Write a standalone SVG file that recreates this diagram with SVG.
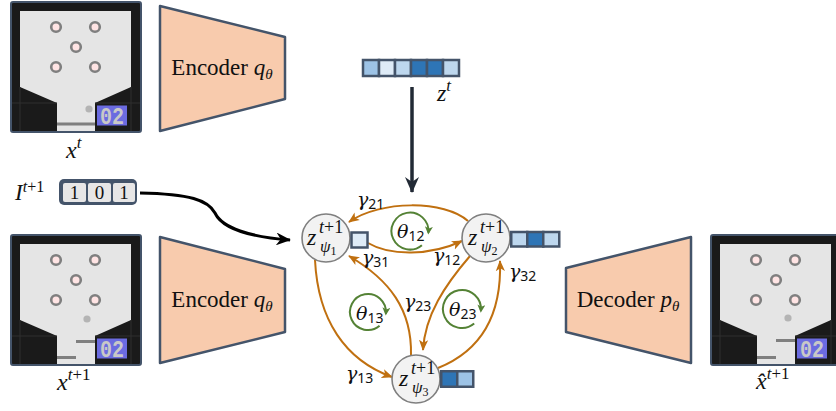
<svg xmlns="http://www.w3.org/2000/svg" xmlns:xlink="http://www.w3.org/1999/xlink" width="836" height="411" viewBox="0 0 836 411">
<style>
.serif{font-family:"Liberation Serif","DejaVu Serif",serif;fill:#111}
.it{font-style:italic}
.enc{fill:#f8cbad;stroke:#44546a;stroke-width:2.5;stroke-linejoin:round}
.cell{stroke:#44546a;stroke-width:2.5}
.node{fill:#f2f2f2;stroke:#7f7f7f;stroke-width:1.6}
.edge{fill:none;stroke:#c07010;stroke-width:2}
.loop{fill:none;stroke:#548235;stroke-width:2}
.lbl{font-family:"DejaVu Serif","Liberation Serif",serif;font-style:italic;font-size:19px;fill:#111}
.sub{font-family:"Noto Sans","DejaVu Sans",sans-serif;font-style:normal;font-size:14px}
.c1{fill:#9dc3e6}.c2{fill:#deebf7}.c3{fill:#bdd7ee}.c4{fill:#2e75b6}
.bump{fill:#ffe4e4;stroke:#7f7f7f;stroke-width:2.6}
.pad{fill:#7f7f7f}
.ball{fill:#b4b4b4}
</style>
<defs>
<marker id="ao" viewBox="0 0 12 12" refX="11" refY="6" markerWidth="11" markerHeight="11" markerUnits="userSpaceOnUse" orient="auto"><path d="M0,1 L12,6 L0,11 L3,6 z" fill="#c07010"/></marker>
<marker id="ab" viewBox="0 0 16 14" refX="15" refY="7" markerWidth="15" markerHeight="13" markerUnits="userSpaceOnUse" orient="auto"><path d="M0,0 L16,7 L0,14 L5,7 z" fill="#000"/></marker>
<marker id="ad" viewBox="0 0 16 14" refX="15" refY="7" markerWidth="16" markerHeight="15" markerUnits="userSpaceOnUse" orient="auto"><path d="M0,0 L16,7 L0,14 L5,7 z" fill="#222a35"/></marker>
<marker id="ag" viewBox="0 0 8 8" refX="6" refY="4" markerWidth="8" markerHeight="8" markerUnits="userSpaceOnUse" orient="auto"><path d="M0,0 L8,4 L0,8 L2,4 z" fill="#548235"/></marker>
<g id="screen">
<rect x="0" y="0" width="130" height="130" rx="2" fill="#1a1a1a" stroke="#44546a" stroke-width="2"/>
<polygon points="9,9 120,9 120,85 84,101 84,129 46,129 46,101 9,85" fill="#e5e5e5"/>
<path d="M1,101 H46 M84,101 H129 M9,85 V129 M120,85 V129" stroke="#2e2e2e" stroke-width="1" fill="none"/>
<circle class="bump" cx="45" cy="25" r="4.8"/>
<circle class="bump" cx="84" cy="25" r="4.8"/>
<circle class="bump" cx="65" cy="45" r="4.8"/>
<circle class="bump" cx="45" cy="65" r="4.8"/>
<circle class="bump" cx="84" cy="65" r="4.8"/>
<rect x="86" y="103.5" width="30" height="20" fill="#6b6be0"/>
<text x="101" y="122" text-anchor="middle" font-family="'Liberation Mono','DejaVu Sans Mono',monospace" font-weight="bold" font-size="23" textLength="24" lengthAdjust="spacingAndGlyphs" fill="#c8c8c8">02</text>
</g>
</defs>

<g id="image-xt">
<use xlink:href="#screen" href="#screen" x="11" y="2"/>
<circle class="ball" cx="89" cy="109" r="3.6"/>
<rect class="pad" x="57" y="122.5" width="38" height="3"/>
<text class="serif" x="66" y="158" font-size="24"><tspan class="it">x</tspan><tspan class="it" font-size="17" dy="-10">t</tspan></text>
</g>

<g id="encoder-top">
<polygon class="enc" points="160,6 285,37 285,99 160,131"/>
<text class="serif" x="222" y="75" font-size="23" text-anchor="middle">Encoder <tspan class="it">q</tspan><tspan class="it" font-size="15" dy="4">θ</tspan></text>
</g>

<g id="latent-zt">
<rect class="cell c1" x="363" y="60" width="16" height="16"/>
<rect class="cell c2" x="379" y="60" width="16" height="16"/>
<rect class="cell c3" x="395" y="60" width="16" height="16"/>
<rect class="cell c4" x="411" y="60" width="16" height="16"/>
<rect class="cell c4" x="427" y="60" width="16" height="16"/>
<rect class="cell c3" x="443" y="60" width="16" height="16"/>
<text class="serif" x="437" y="101" font-size="24"><tspan class="it">z</tspan><tspan class="it" font-size="17" dy="-10">t</tspan></text>
</g>

<g id="intervention">
<text class="serif" x="15" y="200" font-size="23"><tspan class="it">I</tspan><tspan font-size="16" dy="-8"><tspan class="it">t</tspan>+1</tspan></text>
<rect x="59" y="179" width="78" height="26" rx="5" fill="#44546a"/>
<rect x="63" y="183" width="23" height="19" rx="2" fill="#e7e6e6"/>
<rect x="88" y="183" width="23" height="19" rx="2" fill="#e7e6e6"/>
<rect x="113" y="183" width="22" height="19" rx="2" fill="#e7e6e6"/>
<text class="serif" font-size="19" text-anchor="middle" y="199"><tspan x="74.5">1</tspan><tspan x="99.5">0</tspan><tspan x="124">1</tspan></text>
</g>

<g id="image-xt1">
<use xlink:href="#screen" href="#screen" x="11" y="235"/>
<circle class="ball" cx="87" cy="319" r="3.6"/>
<rect class="pad" x="76" y="340" width="19" height="3"/>
<rect class="pad" x="57" y="356" width="19" height="3"/>
<text class="serif" x="57" y="390" font-size="24"><tspan class="it">x</tspan><tspan font-size="17" dy="-10"><tspan class="it">t</tspan>+1</tspan></text>
</g>

<g id="encoder-bottom">
<polygon class="enc" points="160,237 285,269 285,332 160,363"/>
<text class="serif" x="222" y="307" font-size="23" text-anchor="middle">Encoder <tspan class="it">q</tspan><tspan class="it" font-size="15" dy="4">θ</tspan></text>
</g>

<g id="decoder">
<polygon class="enc" points="566,268 691,237 691,363 566,332"/>
<text class="serif" x="628" y="307" font-size="23" text-anchor="middle">Decoder <tspan class="it">p</tspan><tspan class="it" font-size="15" dy="4">θ</tspan></text>
</g>

<g id="image-xhat">
<use xlink:href="#screen" href="#screen" x="711" y="235"/>
<circle class="ball" cx="788" cy="318" r="3.6"/>
<rect class="pad" x="776" y="339" width="19" height="3"/>
<rect class="pad" x="757" y="356" width="19" height="3"/>
<text class="serif" x="756" y="389" font-size="24"><tspan class="it">x̂</tspan><tspan font-size="17" dy="-10"><tspan class="it">t</tspan>+1</tspan></text>
</g>

<g id="connectors">
<line x1="412" y1="87" x2="412" y2="192" stroke="#222a35" stroke-width="3.5" marker-end="url(#ad)"/>
<path d="M140,193 C190,194 208,200 215,213 C222,228 250,237 290,240" fill="none" stroke="#000" stroke-width="3" marker-end="url(#ab)"/>
<path class="edge" d="M468,221 C445,200 380,200 349,222" marker-end="url(#ao)"/>
<path class="edge" d="M368,243 C390,256 430,256 462,241" marker-end="url(#ao)"/>
<path class="edge" d="M411,355 C412,310 390,280 349,256" marker-end="url(#ao)"/>
<path class="edge" d="M470,256 C445,285 425,315 423,350" marker-end="url(#ao)"/>
<path class="edge" d="M315,260 C318,320 345,360 392,377" marker-end="url(#ao)"/>
<path class="edge" d="M438,368 C478,352 502,318 500,261" marker-end="url(#ao)"/>
</g>

<g id="edge-labels">
<text class="lbl" x="357" y="206">γ<tspan class="sub" dy="3">21</tspan></text>
<text class="lbl" x="433" y="262">γ<tspan class="sub" dy="3">12</tspan></text>
<text class="lbl" x="362" y="264">γ<tspan class="sub" dy="3">31</tspan></text>
<text class="lbl" x="509" y="278">γ<tspan class="sub" dy="3">32</tspan></text>
<text class="lbl" x="404" y="308">γ<tspan class="sub" dy="3">23</tspan></text>
<text class="lbl" x="346" y="380">γ<tspan class="sub" dy="3">13</tspan></text>
</g>

<g id="loops">
<path class="loop" d="M421.9,245.2 A18.5,18.5 0 1 1 428.4,232.6" marker-end="url(#ag)"/>
<path class="loop" d="M379.6,325.8 A18,18 0 1 1 385.9,313.6" marker-end="url(#ag)"/>
<path class="loop" d="M474.2,323.6 A19,19 0 1 1 480.9,310.7" marker-end="url(#ag)"/>
<text class="lbl" x="397" y="238">θ<tspan class="sub" dy="3">12</tspan></text>
<text class="lbl" x="356" y="320">θ<tspan class="sub" dy="3">13</tspan></text>
<text class="lbl" x="449" y="316">θ<tspan class="sub" dy="3">23</tspan></text>
</g>

<g id="node-z1">
<circle class="node" cx="326" cy="238" r="24"/>
<rect class="cell c2" x="351.5" y="232.5" width="16" height="15"/>
<text class="serif"><tspan class="it" x="307" y="245" font-size="24">z</tspan><tspan x="319" y="233" font-size="18"><tspan class="it">t</tspan>+1</tspan><tspan class="it" x="320" y="252" font-size="17">ψ</tspan><tspan font-size="12" dy="3">1</tspan></text>
</g>

<g id="node-z2">
<circle class="node" cx="486" cy="238" r="24"/>
<rect class="cell c3" x="511.25" y="232" width="16" height="14.5"/>
<rect class="cell c4" x="527.25" y="232" width="16" height="14.5"/>
<rect class="cell c3" x="543.25" y="232" width="16" height="14.5"/>
<text class="serif"><tspan class="it" x="468" y="245" font-size="24">z</tspan><tspan x="480" y="233" font-size="18"><tspan class="it">t</tspan>+1</tspan><tspan class="it" x="481" y="252" font-size="17">ψ</tspan><tspan font-size="12" dy="3">2</tspan></text>
</g>

<g id="node-z3">
<circle class="node" cx="416" cy="379" r="24"/>
<rect class="cell c4" x="441.25" y="371.25" width="16" height="15.5"/>
<rect class="cell c1" x="457.25" y="371.25" width="16" height="15.5"/>
<text class="serif"><tspan class="it" x="399" y="386" font-size="24">z</tspan><tspan x="411" y="374" font-size="18"><tspan class="it">t</tspan>+1</tspan><tspan class="it" x="412" y="393" font-size="17">ψ</tspan><tspan font-size="12" dy="3">3</tspan></text>
</g>
</svg>
